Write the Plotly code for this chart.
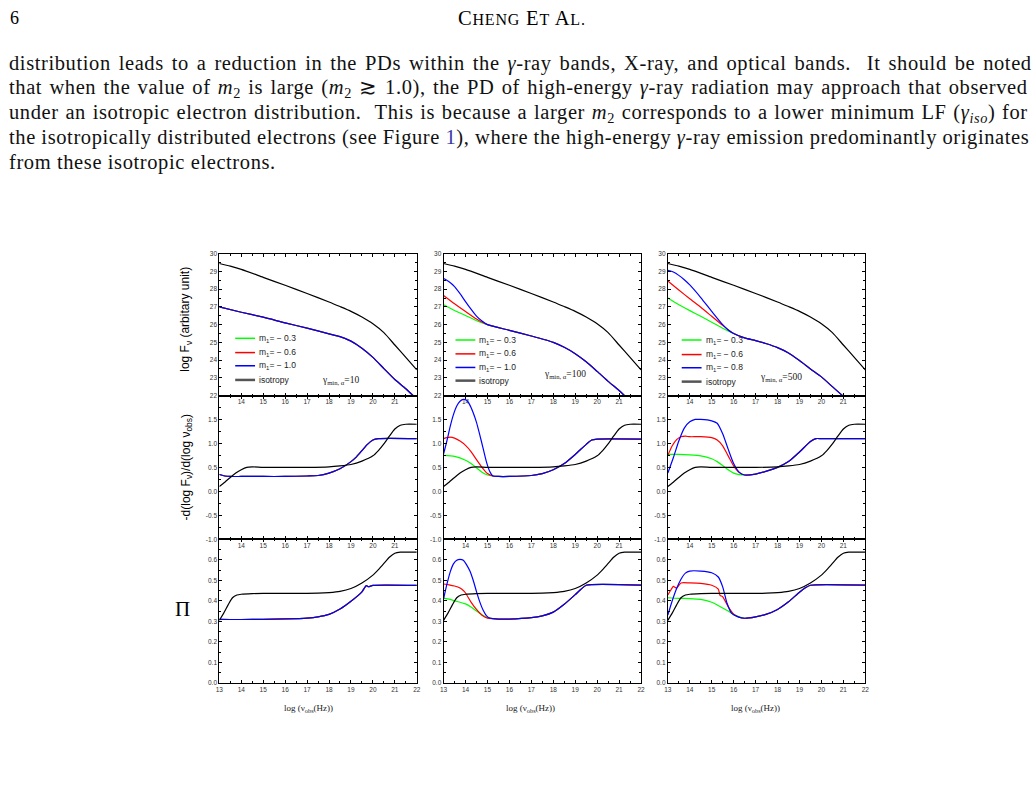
import plotly.graph_objects as go

W, H = 1035, 791

# ---------------- data ----------------
X_TICKS_TOP = [14, 15, 16, 17, 18, 19, 20, 21]
X_TICKS_BOTTOM = [13, 14, 15, 16, 17, 18, 19, 20, 21, 22]
Y_TICKS_F = [22, 23, 24, 25, 26, 27, 28, 29, 30]
Y_TICKS_S = [-1.0, -0.5, 0.0, 0.5, 1.0, 1.5]
Y_TICKS_S_TEXT = ["-1.0", "-0.5", "0.0", "0.5", "1.0", "1.5"]
Y_TICKS_P = [0.0, 0.1, 0.2, 0.3, 0.4, 0.5, 0.6]
Y_TICKS_P_TEXT = ["0.0", "0.1", "0.2", "0.3", "0.4", "0.5", "0.6"]

legend_labels = ["m<sub>1</sub>= \u2212 0.3", "m<sub>1</sub>= \u2212 0.6"]
legend_third = ["m<sub>1</sub>= \u2212 1.0", "m<sub>1</sub>= \u2212 1.0", "m<sub>1</sub>= \u2212 0.8"]
gamma_labels = ["10", "100", "500"]

# isotropy (same in every column)
iso_F_x = [13, 13.5, 14, 15, 16, 17, 18, 18.5, 19, 19.5, 20, 20.5, 21, 21.5, 22]
iso_F_y = [29.45, 29.3, 29.12, 28.67, 28.22, 27.76, 27.28, 27.02, 26.75, 26.43, 26.05, 25.55, 24.85, 24.15, 23.45]
iso_S_x = [13, 13.25, 13.5, 13.75, 14, 14.25, 14.5, 15, 16, 17, 18, 18.5, 19, 19.5, 20, 20.25, 20.5, 20.75, 21, 21.25, 21.5, 22]
iso_S_y = [0.1, 0.19, 0.29, 0.38, 0.45, 0.5, 0.51, 0.5, 0.5, 0.5, 0.51, 0.53, 0.56, 0.63, 0.74, 0.85, 0.99, 1.15, 1.3, 1.38, 1.4, 1.4]
iso_P_x = [13, 13.2, 13.4, 13.6, 13.8, 14, 14.5, 15, 16, 17, 17.5, 18, 18.5, 19, 19.5, 20, 20.25, 20.5, 20.75, 21, 21.25, 22]
iso_P_y = [0.305, 0.34, 0.38, 0.415, 0.428, 0.432, 0.435, 0.436, 0.436, 0.436, 0.437, 0.44, 0.446, 0.46, 0.487, 0.525, 0.552, 0.582, 0.612, 0.632, 0.637, 0.637]

# ---- column 1 (gamma_min = 10): all m1 curves coincide ----
c1_F_x = [13, 14, 15, 16, 17, 18, 18.5, 19, 19.5, 20, 20.5, 21, 21.5, 22]
c1_F_y = [27.0, 26.7, 26.42, 26.1, 25.8, 25.48, 25.32, 25.07, 24.67, 24.15, 23.52, 22.9, 22.38, 21.8]
c1_S_x = [13, 13.25, 13.5, 14, 15, 16, 17, 17.5, 18, 18.5, 19, 19.25, 19.5, 19.75, 20, 20.25, 22]
c1_S_y = [0.35, 0.32, 0.31, 0.31, 0.31, 0.31, 0.32, 0.33, 0.38, 0.47, 0.62, 0.72, 0.85, 0.98, 1.07, 1.1, 1.1]
c1_P_x = [13, 13.5, 14, 15, 16, 17, 17.5, 18, 18.5, 19, 19.5, 19.7, 19.8, 20, 22]
c1_P_y = [0.31, 0.309, 0.309, 0.31, 0.312, 0.316, 0.322, 0.334, 0.36, 0.398, 0.444, 0.474, 0.469, 0.475, 0.475]

# ---- column 2 (gamma_min = 100) ----
c2_F_common_x = [15, 16, 17, 18, 18.5, 19, 19.5, 20, 20.5, 21, 21.5, 22]
c2_F_common_y = [26.0, 25.68, 25.36, 25.0, 24.72, 24.36, 23.9, 23.36, 22.8, 22.28, 21.7, 21.15]
c2_F_green_x = [13, 13.5, 14, 14.5]
c2_F_green_y = [27.12, 26.8, 26.52, 26.22]
c2_F_red_x = [13, 13.5, 14, 14.5]
c2_F_red_y = [27.65, 27.18, 26.74, 26.32]
c2_F_blue_x = [13, 13.25, 13.5, 13.75, 14, 14.25, 14.5, 14.75]
c2_F_blue_y = [28.6, 28.42, 28.15, 27.75, 27.3, 26.87, 26.48, 26.2]

c2_S_common_x = [15.25, 15.5, 16, 17, 17.5, 18, 18.5, 19, 19.5, 19.75, 20, 22]
c2_S_common_y = [0.32, 0.31, 0.31, 0.33, 0.37, 0.45, 0.58, 0.77, 0.98, 1.07, 1.09, 1.09]
c2_S_green_x = [13, 13.5, 14, 14.25, 14.5, 14.75, 15]
c2_S_green_y = [0.75, 0.73, 0.65, 0.58, 0.49, 0.4, 0.34]
c2_S_red_x = [13, 13.15, 13.3, 13.5, 13.75, 14, 14.25, 14.5, 14.75, 15]
c2_S_red_y = [1.1, 1.12, 1.13, 1.11, 1.05, 0.96, 0.83, 0.66, 0.5, 0.37]
c2_S_blue_x = [13, 13.15, 13.3, 13.45, 13.6, 13.75, 13.9, 14.05, 14.2, 14.35, 14.5, 14.65, 14.8, 14.95, 15.1]
c2_S_blue_y = [0.78, 1.05, 1.35, 1.6, 1.78, 1.88, 1.92, 1.9, 1.8, 1.64, 1.44, 1.18, 0.9, 0.62, 0.42]

c2_P_common_x = [15.25, 15.5, 16, 17, 17.5, 18, 18.5, 19, 19.25, 19.5, 22]
c2_P_common_y = [0.313, 0.311, 0.311, 0.318, 0.327, 0.345, 0.383, 0.43, 0.455, 0.476, 0.476]
c2_P_green_x = [13, 13.25, 13.5, 13.75, 14, 14.25, 14.5, 14.75, 15]
c2_P_green_y = [0.413, 0.408, 0.4, 0.393, 0.385, 0.37, 0.35, 0.332, 0.318]
c2_P_red_x = [13, 13.25, 13.5, 13.75, 13.9, 14, 14.25, 14.5, 14.75, 15]
c2_P_red_y = [0.482, 0.478, 0.472, 0.462, 0.45, 0.438, 0.394, 0.358, 0.33, 0.316]
c2_P_blue_x = [13, 13.15, 13.3, 13.45, 13.6, 13.75, 13.9, 14.05, 14.2, 14.35, 14.5, 14.65, 14.8, 14.95, 15.1]
c2_P_blue_y = [0.41, 0.48, 0.54, 0.58, 0.598, 0.602, 0.598, 0.575, 0.545, 0.5, 0.445, 0.395, 0.355, 0.328, 0.316]

# ---- column 3 (gamma_min = 500) ----
c3_F_common_x = [16, 16.5, 17, 17.5, 18, 18.5, 19, 19.5, 20, 20.5, 21, 21.5, 22]
c3_F_common_y = [25.5, 25.25, 25.1, 24.92, 24.7, 24.4, 23.97, 23.5, 23.05, 22.5, 21.95, 21.35, 20.8]
c3_F_green_x = [13, 13.5, 14, 14.5, 15, 15.5]
c3_F_green_y = [27.5, 27.12, 26.79, 26.47, 26.14, 25.8]
c3_F_red_x = [13, 13.5, 14, 14.5, 15, 15.5]
c3_F_red_y = [28.46, 27.96, 27.46, 26.98, 26.47, 25.96]
c3_F_blue_x = [13, 13.25, 13.5, 13.75, 14, 14.5, 15, 15.5, 15.75]
c3_F_blue_y = [29.07, 28.97, 28.78, 28.53, 28.24, 27.53, 26.75, 26.0, 25.7]

c3_S_common_x = [16.5, 17, 17.5, 18, 18.5, 19, 19.5, 19.75, 20, 22]
c3_S_common_y = [0.34, 0.36, 0.42, 0.5, 0.62, 0.82, 1.04, 1.1, 1.1, 1.1]
c3_S_green_x = [13, 13.5, 14, 14.5, 15, 15.25, 15.5, 15.75, 16, 16.25]
c3_S_green_y = [0.77, 0.77, 0.76, 0.74, 0.68, 0.62, 0.54, 0.45, 0.38, 0.35]
c3_S_red_x = [13, 13.2, 13.4, 13.6, 13.8, 14, 14.5, 15, 15.25, 15.5, 15.75, 16, 16.25]
c3_S_red_y = [0.75, 0.95, 1.08, 1.14, 1.15, 1.14, 1.14, 1.12, 1.07, 0.95, 0.74, 0.53, 0.39]
c3_S_blue_x = [13, 13.25, 13.5, 13.75, 14, 14.25, 14.5, 15, 15.25, 15.5, 15.75, 16, 16.25]
c3_S_blue_y = [0.38, 0.7, 1.05, 1.32, 1.45, 1.5, 1.5, 1.47, 1.42, 1.2, 0.88, 0.58, 0.4]

c3_P_common_x = [16.5, 17, 17.5, 18, 18.5, 19, 19.25, 19.5, 22]
c3_P_common_y = [0.315, 0.322, 0.335, 0.358, 0.395, 0.442, 0.462, 0.476, 0.476]
c3_P_green_x = [13, 13.5, 14, 14.5, 15, 15.5, 15.75, 16, 16.25]
c3_P_green_y = [0.415, 0.412, 0.411, 0.407, 0.393, 0.365, 0.35, 0.334, 0.322]
c3_P_red_x = [13, 13.15, 13.25, 13.4, 13.6, 14, 14.5, 15, 15.3, 15.38, 15.5, 15.75, 16, 16.25]
c3_P_red_y = [0.428, 0.455, 0.47, 0.462, 0.487, 0.487, 0.485, 0.476, 0.457, 0.427, 0.42, 0.372, 0.335, 0.32]
c3_P_blue_x = [13, 13.2, 13.4, 13.6, 13.8, 14, 14.5, 15, 15.3, 15.5, 15.7, 15.9, 16.2]
c3_P_blue_y = [0.33, 0.4, 0.46, 0.505, 0.535, 0.545, 0.545, 0.537, 0.516, 0.468, 0.388, 0.34, 0.322]

# ---------------- layout geometry ----------------
COL_PX = [(217, 416), (443, 642), (669, 868)]
ROW_PX = [(252, 395), (395, 540), (540, 685)]

GREEN, RED, BLUE, BLACK = "#00ff00", "#ff0000", "#0000ff", "#000000"
SANS = "Liberation Sans, Arial, sans-serif"
SERIF = "Liberation Serif, Times New Roman, serif"


def px(p):
    return p / W


def py(p):
    return 1 - p / H


fig = go.Figure()


def axname(r, c):
    k = r * 3 + c + 1
    return ("x" if k == 1 else f"x{k}"), ("y" if k == 1 else f"y{k}"), k


def add_line(r, c, xs, ys, color, width=1.2):
    xa, ya, _ = axname(r, c)
    fig.add_trace(go.Scatter(x=xs, y=ys, mode="lines", xaxis=xa, yaxis=ya,
                             line=dict(color=color, width=width, shape="spline", smoothing=0.6),
                             showlegend=False, hoverinfo="skip"))


panels = {
    (0, 0): [(c1_F_x, c1_F_y, GREEN), (c1_F_x, c1_F_y, RED), (c1_F_x, c1_F_y, BLUE)],
    (1, 0): [(c1_S_x, c1_S_y, GREEN), (c1_S_x, c1_S_y, RED), (c1_S_x, c1_S_y, BLUE)],
    (2, 0): [(c1_P_x, c1_P_y, GREEN), (c1_P_x, c1_P_y, RED), (c1_P_x, c1_P_y, BLUE)],
    (0, 1): [(c2_F_green_x + c2_F_common_x, c2_F_green_y + c2_F_common_y, GREEN),
             (c2_F_red_x + c2_F_common_x, c2_F_red_y + c2_F_common_y, RED),
             (c2_F_blue_x + c2_F_common_x, c2_F_blue_y + c2_F_common_y, BLUE)],
    (1, 1): [(c2_S_green_x + c2_S_common_x, c2_S_green_y + c2_S_common_y, GREEN),
             (c2_S_red_x + c2_S_common_x, c2_S_red_y + c2_S_common_y, RED),
             (c2_S_blue_x + c2_S_common_x, c2_S_blue_y + c2_S_common_y, BLUE)],
    (2, 1): [(c2_P_green_x + c2_P_common_x, c2_P_green_y + c2_P_common_y, GREEN),
             (c2_P_red_x + c2_P_common_x, c2_P_red_y + c2_P_common_y, RED),
             (c2_P_blue_x + c2_P_common_x, c2_P_blue_y + c2_P_common_y, BLUE)],
    (0, 2): [(c3_F_green_x + c3_F_common_x, c3_F_green_y + c3_F_common_y, GREEN),
             (c3_F_red_x + c3_F_common_x, c3_F_red_y + c3_F_common_y, RED),
             (c3_F_blue_x + c3_F_common_x, c3_F_blue_y + c3_F_common_y, BLUE)],
    (1, 2): [(c3_S_green_x + c3_S_common_x, c3_S_green_y + c3_S_common_y, GREEN),
             (c3_S_red_x + c3_S_common_x, c3_S_red_y + c3_S_common_y, RED),
             (c3_S_blue_x + c3_S_common_x, c3_S_blue_y + c3_S_common_y, BLUE)],
    (2, 2): [(c3_P_green_x + c3_P_common_x, c3_P_green_y + c3_P_common_y, GREEN),
             (c3_P_red_x + c3_P_common_x, c3_P_red_y + c3_P_common_y, RED),
             (c3_P_blue_x + c3_P_common_x, c3_P_blue_y + c3_P_common_y, BLUE)],
}
iso = [(iso_F_x, iso_F_y), (iso_S_x, iso_S_y), (iso_P_x, iso_P_y)]

for (r, c), curves in panels.items():
    for xs, ys, col in curves:
        add_line(r, c, xs, ys, col)
    add_line(r, c, iso[r][0], iso[r][1], BLACK)

tickfont = dict(family=SANS, size=6.5, color="#333")
layout = {}
for r in range(3):
    for c in range(3):
        xa, ya, k = axname(r, c)
        suffix = "" if k == 1 else str(k)
        xt = X_TICKS_BOTTOM if r == 2 else X_TICKS_TOP
        common = dict(showline=True, linecolor="black", linewidth=1, mirror="allticks",
                      ticks="inside", ticklen=3, tickwidth=0.8, tickcolor="black",
                      showgrid=False, zeroline=False, tickfont=tickfont)
        layout["xaxis" + suffix] = dict(
            domain=[px(COL_PX[c][0]), px(COL_PX[c][1])], range=[13, 22], anchor=ya,
            tickvals=xt, ticktext=[str(v) for v in xt],
            minor=dict(ticks="inside", ticklen=2, tickwidth=0.8, tickcolor="black", dtick=0.5, tick0=13),
            **common)
        if r == 0:
            yr, yv, ytxt, ym = [22, 30], Y_TICKS_F, [str(v) for v in Y_TICKS_F], 0.5
        elif r == 1:
            yr, yv, ytxt, ym = [-1, 2], Y_TICKS_S, Y_TICKS_S_TEXT, 0.25
        else:
            yr, yv, ytxt, ym = [0, 0.7], Y_TICKS_P, Y_TICKS_P_TEXT, 0.05
        layout["yaxis" + suffix] = dict(
            domain=[py(ROW_PX[r][1]), py(ROW_PX[r][0])], range=yr, anchor=xa,
            tickvals=yv, ticktext=ytxt,
            minor=dict(ticks="inside", ticklen=2, tickwidth=0.8, tickcolor="black", dtick=ym, tick0=yr[0]),
            **common)

fig.update_layout(**layout)

annotations = []
shapes = []


def ann(x, y, text, size, family=SANS, color="black", xanchor="left", yanchor="middle", angle=0):
    annotations.append(dict(x=px(x), y=py(y), xref="paper", yref="paper", text=text, showarrow=False,
                            font=dict(family=family, size=size, color=color),
                            xanchor=xanchor, yanchor=yanchor, textangle=angle))


# legends (swatches + labels) and gamma labels in the top panels
leg_geo = [
    (233, 253, 255, [337.3, 351.7, 365.0, 379.3], (318, 380)),
    (455, 475, 477, [339.0, 353.0, 366.7, 380.0], (542, 374)),
    (683, 703, 705, [339.0, 353.7, 367.0, 381.0], (760, 377)),
]
for c, (x0, x1, xt, ys, gpos) in enumerate(leg_geo):
    labels = legend_labels + [legend_third[c], "isotropy"]
    colors = [GREEN, RED, BLUE, "#555555"]
    widths = [1.5, 1.5, 1.5, 2.5]
    for lab, col, wdt, yy in zip(labels, colors, widths, ys):
        shapes.append(dict(type="line", xref="paper", yref="paper", x0=px(x0), x1=px(x1),
                           y0=py(yy), y1=py(yy), line=dict(color=col, width=wdt)))
        ann(xt, yy, lab, 8.5, color="#222")
    ann(gpos[0], gpos[1], "\u03b3<sub>min, \u03b1</sub>=" + gamma_labels[c], 9.5, family=SERIF, color="#222")

# axis titles
ann(184, 318, "log F<sub>\u03bd</sub> (arbitary unit)", 12, angle=-90, xanchor="center")
ann(184, 468, "-d(log F<sub>\u03bd</sub>)/d(log \u03bd<sub>obs</sub>)", 12, angle=-90, xanchor="center")
ann(180, 610, "\u03a0", 21, family=SERIF, xanchor="center")
for xc in [307, 531, 757]:
    ann(xc, 711, "log (\u03bd<sub>obs</sub>(Hz))", 9, family=SERIF, xanchor="center", color="#222")

# page header and body text
ann(4, 14, "6", 18, family=SERIF)
ann(522, 14, "<span style='letter-spacing:0.8px'>C<span style='font-size:16px'>HENG</span> E<span style='font-size:16px'>T</span> A<span style='font-size:16px'>L.</span></span>",
    20.5, family=SERIF, xanchor="center")

body = [
    "distribution leads to a reduction in the PDs within the <i>\u03b3</i>-ray bands, X-ray, and optical bands.  It should be noted",
    "that when the value of <i>m</i><sub>2</sub> is large (<i>m</i><sub>2</sub> \u2273 1.0), the PD of high-energy <i>\u03b3</i>-ray radiation may approach that observed",
    "under an isotropic electron distribution.  This is because a larger <i>m</i><sub>2</sub> corresponds to a lower minimum LF (<i>\u03b3<sub>iso</sub></i>) for",
    "the isotropically distributed electrons (see Figure <span style='color:#3a3aa8'>1</span>), where the high-energy <i>\u03b3</i>-ray emission predominantly originates",
    "from these isotropic electrons.",
]
body_word_spacing = [2.2, 1.55, 1.0, -0.2, 0.0]
for i, line in enumerate(body):
    styled = "<span style='letter-spacing:0.6px;word-spacing:%.2fpx'>%s</span>" % (body_word_spacing[i], line)
    ann(3, 60 + 25 * i, styled, 20.5, family=SERIF, color="#111")

fig.update_layout(annotations=annotations, shapes=shapes, width=W, height=H,
                  margin=dict(l=0, r=0, t=0, b=0), paper_bgcolor="white", plot_bgcolor="white",
                  showlegend=False)

fig.write_html("out.html", config={"displayModeBar": False})
